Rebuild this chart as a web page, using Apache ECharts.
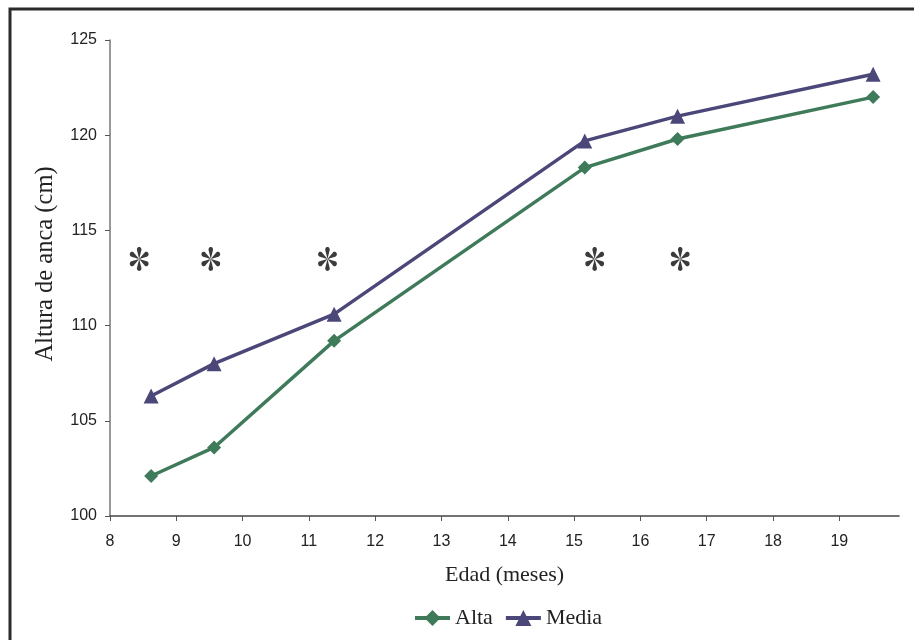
<!DOCTYPE html>
<html><head><meta charset="utf-8">
<script src="https://cdn.jsdelivr.net/npm/echarts@6/dist/echarts.min.js"></script>
<style>html,body{margin:0;padding:0;background:#fff}#c{width:914px;height:640px}</style>
</head><body><div id="c"></div>
<script>
const edadAlta = [8.62, 9.57, 11.38, 15.16, 16.56, 19.51];
const alta = [102.1, 103.6, 109.2, 118.3, 119.8, 122.0];
const edadMedia = [8.62, 9.57, 11.38, 15.16, 16.56, 19.51];
const media = [106.3, 108.0, 110.6, 119.7, 121.0, 123.2];
const sigX = [8.44, 9.52, 11.28, 15.31, 16.6];
const sigY = 113.5;
const xTicks = [8, 9, 10, 11, 12, 13, 14, 15, 16, 17, 18, 19];
const yTicks = [100, 105, 110, 115, 120, 125];

// six teardrop-spoked asterisk glyph (style only)
function asteriskPath() {
  const d = 76, r = 21, a = Math.asin(r / d);
  let s = '';
  for (let k = 0; k < 6; k++) {
    const t = Math.PI / 2 + k * Math.PI / 3;
    const cx = d * Math.cos(t), cy = d * Math.sin(t);
    s += 'M0,0';
    const n = 14;
    for (let i = 0; i <= n; i++) {
      const p = t + Math.PI / 2 + a - i * (Math.PI + 2 * a) / n;
      s += ' L' + (cx + r * Math.cos(p)).toFixed(2) + ',' + (cy + r * Math.sin(p)).toFixed(2);
    }
    s += ' Z ';
  }
  return 'path://' + s;
}

const chart = echarts.init(document.getElementById('c'), null, {renderer: 'canvas'});
const zip = (a, b) => a.map((v, i) => [v, b[i]]);
chart.setOption({
  animation: false,
  backgroundColor: '#fff',
  graphic: [{type: 'rect', shape: {x: 10, y: 9, width: 1000, height: 1000}, style: {fill: 'none', stroke: '#2b2b2b', lineWidth: 3}}],
  grid: {left: 110, top: 40, right: 15, bottom: 124, containLabel: false},
  xAxis: {
    type: 'value', min: xTicks[0], max: 19.9, interval: 1,
    name: 'Edad (meses)', nameLocation: 'middle', nameGap: 48,
    nameTextStyle: {fontFamily: 'Liberation Serif', fontSize: 22, color: '#222'},
    axisLine: {lineStyle: {color: '#444', width: 1.5}},
    axisTick: {show: true, length: 5, lineStyle: {color: '#555'}},
    axisLabel: {fontFamily: 'Liberation Sans', fontSize: 16, color: '#222', margin: 18, showMaxLabel: false,
      formatter: v => xTicks.includes(v) ? String(v) : ''},
    splitLine: {show: false}
  },
  yAxis: {
    type: 'value', min: yTicks[0], max: yTicks[yTicks.length - 1], interval: 5,
    name: 'Altura de anca (cm)', nameLocation: 'middle', nameGap: 52,
    nameTextStyle: {fontFamily: 'Liberation Serif', fontSize: 24.5, color: '#222', padding: [0, 0, 0, 28]},
    axisLine: {show: true, lineStyle: {color: '#777', width: 1.5}},
    axisTick: {show: true, length: 5, lineStyle: {color: '#555'}},
    axisLabel: {fontFamily: 'Liberation Sans', fontSize: 16, color: '#222', margin: 13},
    splitLine: {show: false}
  },
  legend: {
    top: 602, left: 408, itemWidth: 35, itemHeight: 20, itemGap: 11,
    lineStyle: {width: 4},
    textStyle: {fontFamily: 'Liberation Serif', fontSize: 22, color: '#222'},
    data: ['Alta', 'Media']
  },
  series: [
    {name: 'Alta', type: 'line', data: zip(edadAlta, alta), symbol: 'diamond', symbolSize: 14,
      lineStyle: {color: '#3f7a5a', width: 3.5}, itemStyle: {color: '#3f7a5a'}},
    {name: 'Media', type: 'line', data: zip(edadMedia, media), symbol: 'triangle', symbolSize: 15,
      lineStyle: {color: '#4b4879', width: 3.5}, itemStyle: {color: '#4b4879'}},
    {name: 'sig', type: 'scatter', data: sigX.map(x => [x, sigY]), symbol: asteriskPath(), symbolKeepAspect: true,
      symbolSize: [21, 24], itemStyle: {color: '#0a0a0a'}}
  ]
});
</script></body></html>
